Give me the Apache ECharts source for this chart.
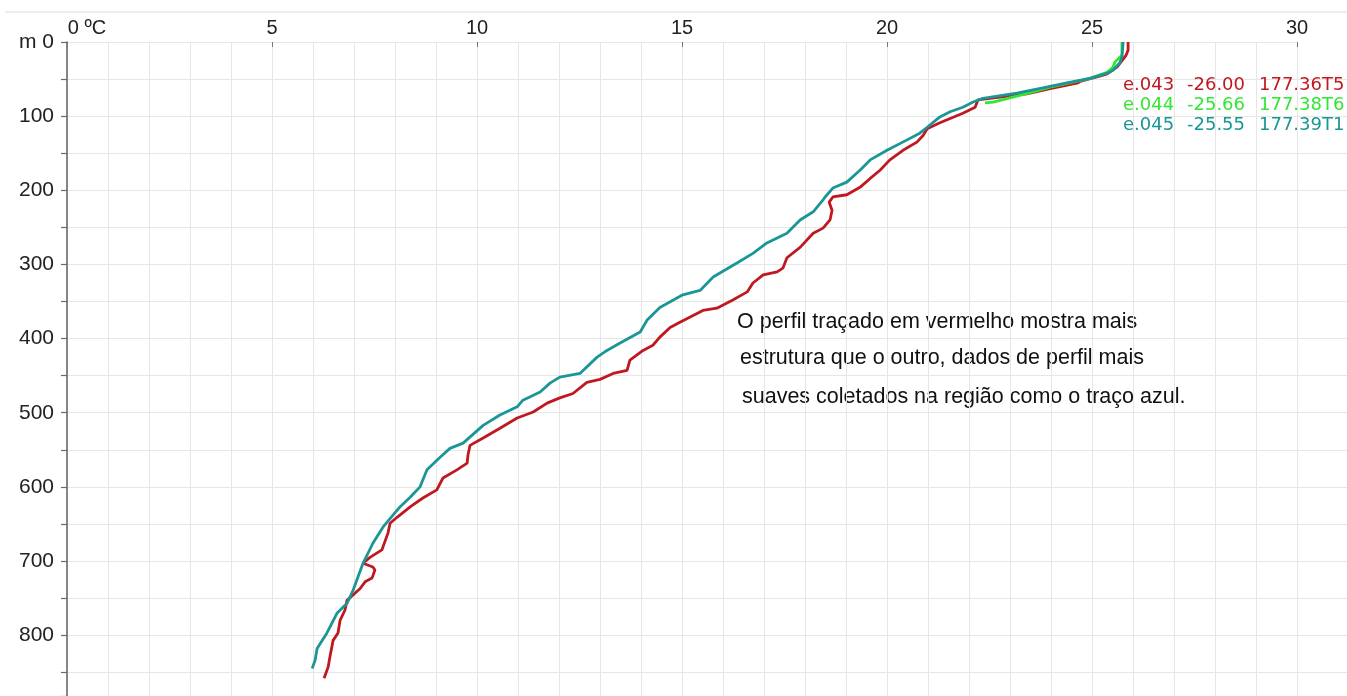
<!DOCTYPE html>
<html>
<head>
<meta charset="utf-8">
<script src="https://cdn.jsdelivr.net/npm/echarts@6.0.0/dist/echarts.min.js"></script>
<style>
  html, body { margin: 0; padding: 0; background: #fff; }
  #chart { width: 1347px; height: 696px; }
</style>
</head>
<body>
<div id="chart"></div>
<script>
// perfis de temperatura (ºC) x profundidade (m)
const redName = "e.043  -26.00  177.36T5";
const redTemp = [25.88, 25.88, 25.83, 25.61, 25.37, 25.12, 24.71, 24.66, 23.98, 23.41, 22.51, 22.22, 22.15, 21.85, 21.29, 20.98, 20.88, 20.73, 20.39, 20.07, 19.83, 19.59, 19.34, 19.02, 18.68, 18.59, 18.66, 18.61, 18.44, 18.2, 17.88, 17.56, 17.46, 17.32, 16.98, 16.73, 16.59, 16.24, 15.85, 15.51, 15.2, 14.95, 14.71, 14.46, 14.29, 14.05, 13.73, 13.66, 13.32, 13.0, 12.68, 12.34, 12.02, 11.71, 11.37, 10.98, 10.56, 10.15, 9.83, 9.78, 9.76, 9.51, 9.17, 9.02, 8.68, 8.37, 8.05, 7.88, 7.83, 7.68, 7.39, 7.22, 7.46, 7.51, 7.44, 7.27, 7.15, 6.83, 6.78, 6.66, 6.61, 6.49, 6.41, 6.37, 6.27];
const redDepth = [0, 11, 18, 34, 43, 47, 53, 55, 63, 70, 76, 78, 88, 96, 109, 117, 126, 135, 146, 159, 173, 184, 196, 206, 209, 216, 227, 240, 251, 258, 277, 291, 305, 310, 314, 325, 337, 348, 359, 362, 371, 378, 385, 398, 409, 416, 429, 443, 447, 455, 459, 474, 480, 487, 499, 507, 521, 534, 544, 557, 568, 577, 588, 604, 615, 627, 641, 649, 662, 685, 695, 703, 708, 712, 723, 728, 737, 753, 766, 780, 797, 807, 830, 843, 858];

const greenName = "e.044  -25.66  177.38T6";
const greenTemp = [25.73, 25.73, 25.56, 25.51, 25.37, 24.95, 23.98, 23.24, 22.59, 22.39];
const greenDepth = [0, 18, 27, 34, 41, 49, 61, 72, 81, 82];

const tealName = "e.045  -25.55  177.39T1";
const tealTemp = [25.76, 25.73, 25.68, 25.51, 25.37, 24.95, 24.39, 23.8, 23.17, 22.34, 22.1, 21.85, 21.54, 21.29, 20.98, 20.8, 20.49, 20.0, 19.59, 19.34, 19.02, 18.68, 18.49, 18.44, 18.2, 17.88, 17.56, 17.07, 16.73, 16.34, 15.76, 15.44, 15.02, 14.46, 14.15, 13.98, 13.49, 13.17, 12.93, 12.51, 12.02, 11.78, 11.54, 11.12, 10.98, 10.56, 10.15, 9.66, 9.34, 9.1, 8.78, 8.61, 8.37, 8.12, 7.71, 7.46, 7.22, 6.98, 6.83, 6.59, 6.34, 6.1, 6.05, 5.98];
const tealDepth = [0, 20, 28, 38, 42, 49, 55, 62, 69, 76, 81, 88, 94, 101, 115, 123, 132, 146, 159, 173, 189, 197, 209, 213, 229, 240, 258, 271, 285, 298, 317, 335, 341, 358, 375, 391, 406, 416, 425, 447, 452, 460, 472, 483, 492, 503, 517, 541, 548, 560, 577, 600, 614, 627, 654, 676, 703, 739, 757, 770, 797, 818, 834, 845];

const noteLines = [
  "O perfil traçado em vermelho mostra mais",
  "estrutura que o outro, dados de perfil mais",
  "suaves coletados na região como o traço azul.",
];

const RED = "#c01820";
const GREEN = "#33e633";
const TEAL = "#1a9696";
const GRID_COLOR = "#e6e6e6";
const FONT = "Liberation Sans";

function pairs(temp, depth) {
  return temp.map((t, i) => [t, depth[i]]);
}

function lineSeries(name, color, temp, depth) {
  return {
    name: name,
    type: "line",
    xAxisIndex: 0,
    yAxisIndex: 0,
    showSymbol: false,
    symbol: "none",
    silent: true,
    lineStyle: { color: color, width: 2.8 },
    itemStyle: { color: color },
    data: pairs(temp, depth),
  };
}

const myChart = echarts.init(document.getElementById("chart"));
myChart.setOption({
  animation: false,
  grid: [
    // grade das temperaturas (0 a 30 ºC)
    { left: 67, top: 42, right: 50, bottom: 0 },
    // so para as linhas horizontais que vão ate a borda
    { left: 67, top: 42, right: 0, bottom: 0 },
  ],
  xAxis: [
    {
      type: "value",
      gridIndex: 0,
      position: "top",
      min: 0,
      max: 30,
      interval: 5,
      axisLine: { show: true, lineStyle: { color: GRID_COLOR, width: 1 } },
      axisTick: { show: true, inside: true, length: 5, lineStyle: { color: "#777" } },
      axisLabel: {
        margin: 4,
        fontFamily: FONT,
        fontSize: 20,
        color: "#222",
        formatter: (v) => (v === 0 ? "{u|0 ºC}" : String(v)),
        rich: {
          u: { fontFamily: FONT, fontSize: 20, color: "#222", padding: [0, 0, 0, 40] },
        },
      },
      splitLine: { show: true, lineStyle: { color: GRID_COLOR, width: 1 } },
      minorTick: { show: false, splitNumber: 5 },
      minorSplitLine: { show: true, lineStyle: { color: GRID_COLOR, width: 1 } },
    },
    {
      type: "value",
      gridIndex: 1,
      min: 0,
      max: 1,
      show: false,
    },
  ],
  yAxis: [
    {
      type: "value",
      gridIndex: 0,
      inverse: true,
      min: 0,
      max: 882,
      interval: 50,
      axisLine: { show: true, lineStyle: { color: "#6a6a6a", width: 1.6 } },
      axisTick: { show: true, length: 6, lineStyle: { color: "#6a6a6a", width: 1.2 } },
      axisLabel: {
        margin: 13,
        fontFamily: FONT,
        fontSize: 21,
        color: "#222",
        formatter: (v) => (v === 0 ? "m 0" : v % 100 === 0 ? String(v) : ""),
      },
      splitLine: { show: false },
    },
    {
      type: "value",
      gridIndex: 1,
      inverse: true,
      min: 0,
      max: 882,
      interval: 50,
      axisLine: { show: false },
      axisTick: { show: false },
      axisLabel: { show: false },
      splitLine: { show: true, showMinLine: false, lineStyle: { color: GRID_COLOR, width: 1 } },
    },
  ],
  legend: {
    orient: "vertical",
    left: 1118,
    top: 76,
    icon: "none",
    itemWidth: 0,
    itemHeight: 18,
    itemGap: 2,
    padding: 0,
    selectedMode: false,
    formatter: (name) => {
      const p = name.split(/\s+/);
      return "{a|" + p[0] + "}{b|" + p[1] + "}{c|" + p[2] + "}";
    },
    textStyle: {
      fontFamily: "DejaVu Sans",
      fontSize: 18,
      padding: 0,
      rich: {
        a: { fontFamily: "DejaVu Sans", fontSize: 18, width: 64 },
        b: { fontFamily: "DejaVu Sans", fontSize: 18, width: 72 },
        c: { fontFamily: "DejaVu Sans", fontSize: 18, width: 92 },
      },
    },
    data: [
      { name: redName, textStyle: { color: RED } },
      { name: greenName, textStyle: { color: GREEN } },
      { name: tealName, textStyle: { color: TEAL } },
    ],
  },
  graphic: [
    {
      type: "line",
      silent: true,
      shape: { x1: 5, y1: 12, x2: 1347, y2: 12 },
      style: { stroke: "#ececec", lineWidth: 2 },
    },
    {
      type: "text",
      left: 737,
      top: 311,
      style: { text: noteLines[0], font: "21.5px " + FONT, fill: "#111" },
    },
    {
      type: "text",
      left: 740,
      top: 347,
      style: { text: noteLines[1], font: "21.5px " + FONT, fill: "#111" },
    },
    {
      type: "text",
      left: 742,
      top: 386,
      style: { text: noteLines[2], font: "21.5px " + FONT, fill: "#111" },
    },
  ],
  series: [
    lineSeries(redName, RED, redTemp, redDepth),
    lineSeries(greenName, GREEN, greenTemp, greenDepth),
    lineSeries(tealName, TEAL, tealTemp, tealDepth),
  ],
});
</script>
</body>
</html>
